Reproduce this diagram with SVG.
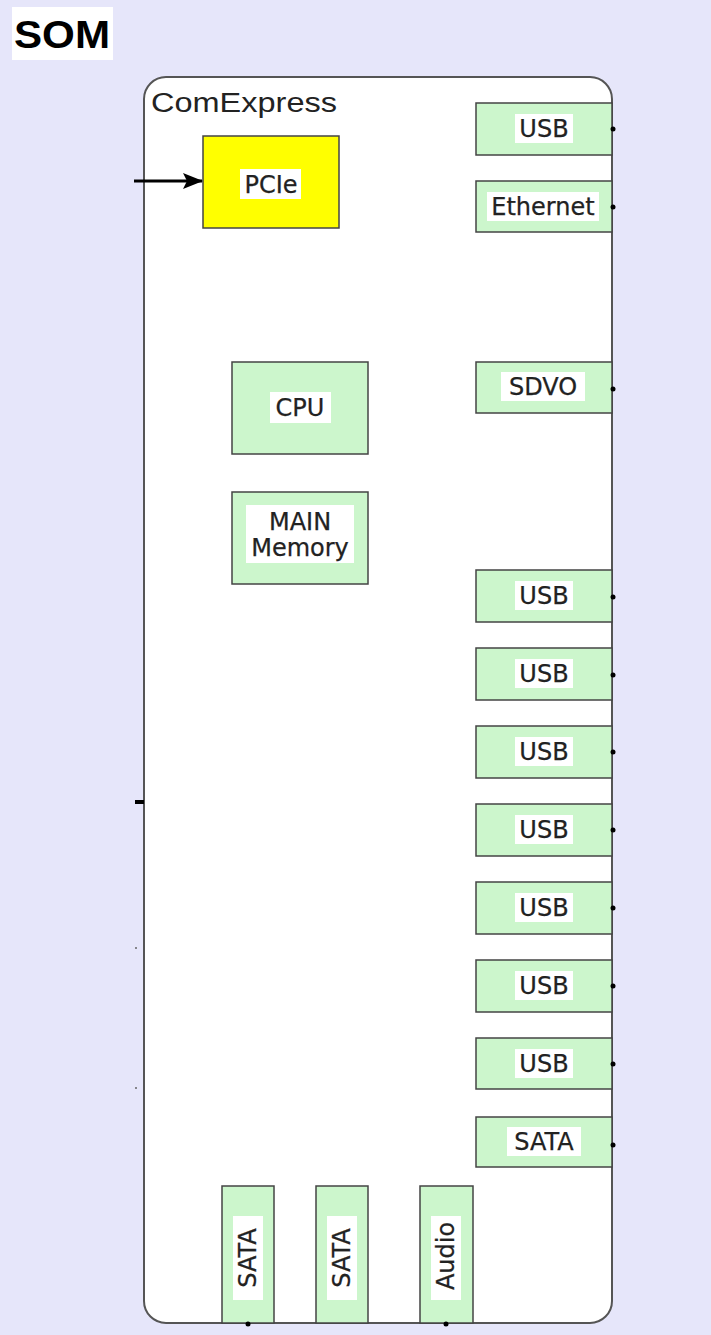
<svg xmlns="http://www.w3.org/2000/svg" width="711" height="1335" viewBox="0 0 711 1335">
<style>
.lbl{font-family:"DejaVu Sans",Verdana,sans-serif;font-size:24px;fill:#222;text-anchor:middle;stroke:#222;stroke-width:0.25}
.box{fill:#ccf6cc;stroke:#444;stroke-width:1.5}
.bg{fill:#fff}
.dot{fill:#000}
</style>
<defs>
<marker id="ah" markerWidth="20" markerHeight="16" refX="19" refY="8" orient="auto" markerUnits="userSpaceOnUse">
<path d="M0,0 L20,8 L0,16 L4,8 Z" fill="#000"/>
</marker>
</defs>
<rect width="711" height="1335" fill="#e6e6fa"/>
<g id="title">
<rect x="12" y="7" width="101" height="53" fill="#fff"/>
<text x="14" y="48" font-family="Liberation Sans,Arial,sans-serif" font-weight="bold" font-size="38" textLength="96" lengthAdjust="spacingAndGlyphs" fill="#000">SOM</text>
</g>
<g id="comexpress">
<rect x="144" y="77" width="468" height="1246" rx="22" fill="#fff" stroke="#555" stroke-width="2"/>
<text x="151" y="112" font-family="Liberation Sans,Arial,sans-serif" font-size="27" textLength="186" lengthAdjust="spacingAndGlyphs" fill="#222">ComExpress</text>
</g>
<g id="pcie">
<rect x="203" y="136" width="136" height="92" fill="#ffff00" stroke="#444" stroke-width="1.5"/>
<rect class="bg" x="240" y="169" width="61" height="30"/>
<text class="lbl" x="271" y="193">PCIe</text>
</g>
<g id="cpu">
<rect class="box" x="232" y="362" width="136" height="92"/>
<rect class="bg" x="270" y="392" width="61" height="31"/>
<text class="lbl" x="300" y="416">CPU</text>
</g>
<g id="memory">
<rect class="box" x="232" y="492" width="136" height="92"/>
<rect class="bg" x="246" y="505" width="108" height="58"/>
<text class="lbl" x="300" y="530">MAIN</text>
<text class="lbl" x="300" y="556">Memory</text>
</g>
<g id="usb1">
<rect class="box" x="476" y="103" width="136" height="52"/>
<rect class="bg" x="515" y="114" width="58" height="29"/>
<text class="lbl" x="544" y="137">USB</text>
</g>
<g id="ethernet">
<rect class="box" x="476" y="181" width="136" height="51"/>
<rect class="bg" x="487" y="192" width="112" height="29"/>
<text class="lbl" x="543" y="215">Ethernet</text>
</g>
<g id="sdvo">
<rect class="box" x="476" y="362" width="136" height="51"/>
<rect class="bg" x="501" y="372" width="84" height="29"/>
<text class="lbl" x="543" y="395">SDVO</text>
</g>
<g id="usb2">
<rect class="box" x="476" y="570" width="136" height="52"/>
<rect class="bg" x="515" y="581" width="58" height="29"/>
<text class="lbl" x="544" y="604">USB</text>
</g>
<g id="usb3">
<rect class="box" x="476" y="648" width="136" height="52"/>
<rect class="bg" x="515" y="659" width="58" height="29"/>
<text class="lbl" x="544" y="682">USB</text>
</g>
<g id="usb4">
<rect class="box" x="476" y="726" width="136" height="52"/>
<rect class="bg" x="515" y="737" width="58" height="29"/>
<text class="lbl" x="544" y="760">USB</text>
</g>
<g id="usb5">
<rect class="box" x="476" y="804" width="136" height="52"/>
<rect class="bg" x="515" y="815" width="58" height="29"/>
<text class="lbl" x="544" y="838">USB</text>
</g>
<g id="usb6">
<rect class="box" x="476" y="882" width="136" height="52"/>
<rect class="bg" x="515" y="893" width="58" height="29"/>
<text class="lbl" x="544" y="916">USB</text>
</g>
<g id="usb7">
<rect class="box" x="476" y="960" width="136" height="52"/>
<rect class="bg" x="515" y="971" width="58" height="29"/>
<text class="lbl" x="544" y="994">USB</text>
</g>
<g id="usb8">
<rect class="box" x="476" y="1038" width="136" height="51"/>
<rect class="bg" x="515" y="1049" width="58" height="29"/>
<text class="lbl" x="544" y="1072">USB</text>
</g>
<g id="sata1">
<rect class="box" x="476" y="1117" width="136" height="50"/>
<rect class="bg" x="507" y="1127" width="74" height="29"/>
<text class="lbl" x="544" y="1150">SATA</text>
</g>
<g id="sata2">
<rect class="box" x="222" y="1186" width="52" height="137"/>
<rect class="bg" x="233" y="1216" width="30" height="84"/>
<text class="lbl" transform="translate(256,1258) rotate(-90)">SATA</text>
</g>
<g id="sata3">
<rect class="box" x="316" y="1186" width="52" height="137"/>
<rect class="bg" x="327" y="1216" width="30" height="84"/>
<text class="lbl" transform="translate(350,1258) rotate(-90)">SATA</text>
</g>
<g id="audio">
<rect class="box" x="420" y="1186" width="53" height="137"/>
<rect class="bg" x="431" y="1216" width="30" height="84"/>
<text class="lbl" transform="translate(454,1256) rotate(-90)">Audio</text>
</g>
<g id="connectors">
<line x1="134" y1="181" x2="202" y2="181" stroke="#000" stroke-width="3" marker-end="url(#ah)"/>
<rect x="135" y="800" width="9" height="4" fill="#000"/>
<circle cx="136" cy="948" r="1" fill="#666"/>
<circle cx="136" cy="1088" r="1" fill="#666"/>
<circle class="dot" cx="613" cy="129" r="2.5"/>
<circle class="dot" cx="613" cy="207" r="2.5"/>
<circle class="dot" cx="613" cy="389" r="2.5"/>
<circle class="dot" cx="613" cy="597" r="2.5"/>
<circle class="dot" cx="613" cy="675" r="2.5"/>
<circle class="dot" cx="613" cy="752" r="2.5"/>
<circle class="dot" cx="613" cy="830" r="2.5"/>
<circle class="dot" cx="613" cy="908" r="2.5"/>
<circle class="dot" cx="613" cy="986" r="2.5"/>
<circle class="dot" cx="613" cy="1064" r="2.5"/>
<circle class="dot" cx="613" cy="1145" r="2.5"/>
<circle class="dot" cx="248" cy="1324" r="2.5"/>
<circle class="dot" cx="446" cy="1324" r="2.5"/>
</g>
</svg>
